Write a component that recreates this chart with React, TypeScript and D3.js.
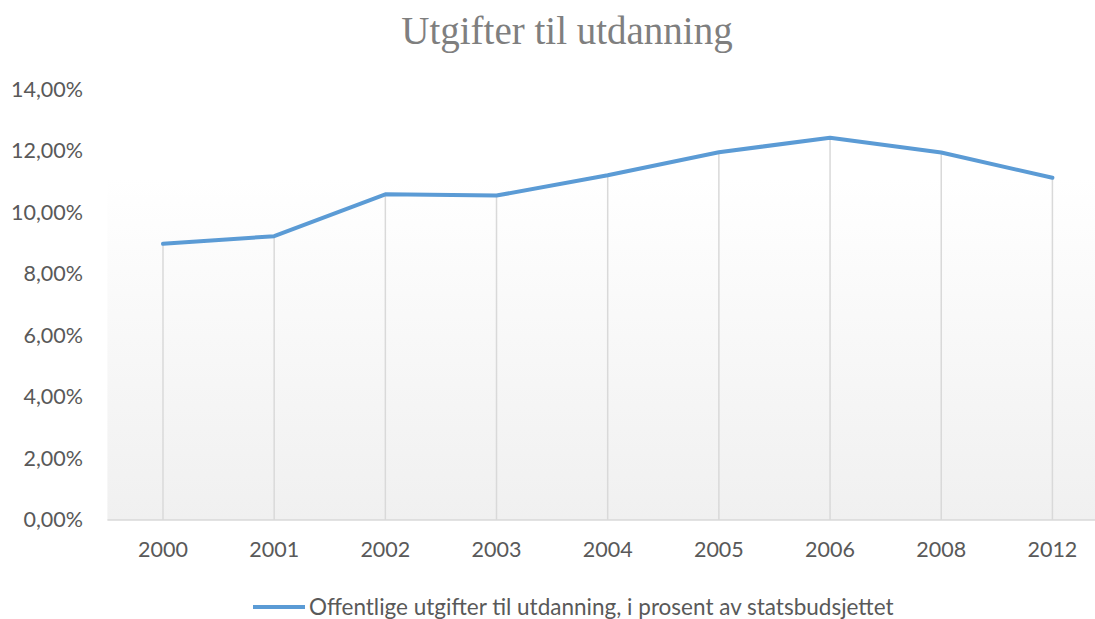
import React, { useEffect, useRef } from 'react';
import * as d3 from 'd3';

const years = ['2000', '2001', '2002', '2003', '2004', '2005', '2006', '2008', '2012'];
const shares = [0.0898, 0.0923, 0.1059, 0.1055, 0.1121, 0.1196, 0.1243, 0.1195, 0.1113];
const yTicks = [0, 0.02, 0.04, 0.06, 0.08, 0.1, 0.12, 0.14];
const title = 'Utgifter til utdanning';
const seriesName = 'Offentlige utgifter til utdanning, i prosent av statsbudsjettet';

const width = 1095;
const height = 619;

const App = () => {
    const ref = useRef<SVGSVGElement>(null);

    useEffect(() => {
        const svg = d3.select(ref.current);
        svg.selectAll('*').remove();

        const left = 107.4, right = 1108, top = 89.5, bottom = 520;

        const x = d3.scaleBand().domain(years).range([left, right]);
        const y = d3.scaleLinear().domain([0, 0.14]).range([bottom, top]);

        const defs = svg.append('defs');
        const grad = defs.append('linearGradient')
            .attr('id', 'plotBg')
            .attr('x1', 0).attr('y1', 0).attr('x2', 0).attr('y2', 1);
        grad.append('stop').attr('offset', '0%').attr('stop-color', '#ffffff');
        grad.append('stop').attr('offset', '100%').attr('stop-color', '#f0f0f0');

        svg.append('rect')
            .attr('x', left).attr('y', 178)
            .attr('width', width - left).attr('height', bottom - 178)
            .attr('fill', 'url(#plotBg)');

        svg.append('text')
            .attr('x', 567).attr('y', 44)
            .attr('text-anchor', 'middle')
            .style('font-family', '"Liberation Serif", serif')
            .style('font-size', '39px')
            .attr('fill', '#7f7f7f')
            .text(title);

        // y labels
        svg.selectAll('.ytick')
            .data(yTicks)
            .enter()
            .append('text')
            .attr('x', 83)
            .attr('y', d => y(d) + 7)
            .attr('text-anchor', 'end')
            .style('font-family', 'Lato, sans-serif')
            .style('font-size', '21.5px')
            .attr('fill', '#595959')
            .text(d => d3.format('.2f')(d * 100).replace('.', ',') + '%');

        const cx = (d: string) => (x(d) as number) + x.bandwidth() / 2;

        // drop lines
        svg.selectAll('.drop')
            .data(years)
            .enter()
            .append('line')
            .attr('x1', d => cx(d)).attr('x2', d => cx(d))
            .attr('y1', (d, i) => y(shares[i]))
            .attr('y2', bottom)
            .attr('stroke', '#d9d9d9')
            .attr('stroke-width', 1.5);

        // x axis line
        svg.append('line')
            .attr('x1', left).attr('x2', width)
            .attr('y1', bottom).attr('y2', bottom)
            .attr('stroke', '#d9d9d9')
            .attr('stroke-width', 1.5);

        svg.selectAll('.xtick')
            .data(years)
            .enter()
            .append('text')
            .attr('x', d => cx(d))
            .attr('y', 557)
            .attr('text-anchor', 'middle')
            .style('font-family', 'Lato, sans-serif')
            .style('font-size', '21.5px')
            .attr('fill', '#595959')
            .text(d => d);

        const line = d3.line<number>()
            .x((d, i) => cx(years[i]))
            .y(d => y(d));

        svg.append('path')
            .datum(shares)
            .attr('d', line)
            .attr('fill', 'none')
            .attr('stroke', '#5b9bd5')
            .attr('stroke-width', 4)
            .attr('stroke-linejoin', 'round')
            .attr('stroke-linecap', 'round');

        // legend
        svg.append('line')
            .attr('x1', 253).attr('x2', 305)
            .attr('y1', 607).attr('y2', 607)
            .attr('stroke', '#5b9bd5')
            .attr('stroke-width', 4);

        svg.append('text')
            .attr('x', 309).attr('y', 615)
            .style('font-family', 'Lato, sans-serif')
            .style('font-size', '22.5px')
            .attr('fill', '#595959')
            .text(seriesName);
    }, []);

    return (
        <svg ref={ref} width={width} height={height}
            style={{ position: 'absolute', top: 0, left: 0, background: '#fff' }} />
    );
};

export default App;
